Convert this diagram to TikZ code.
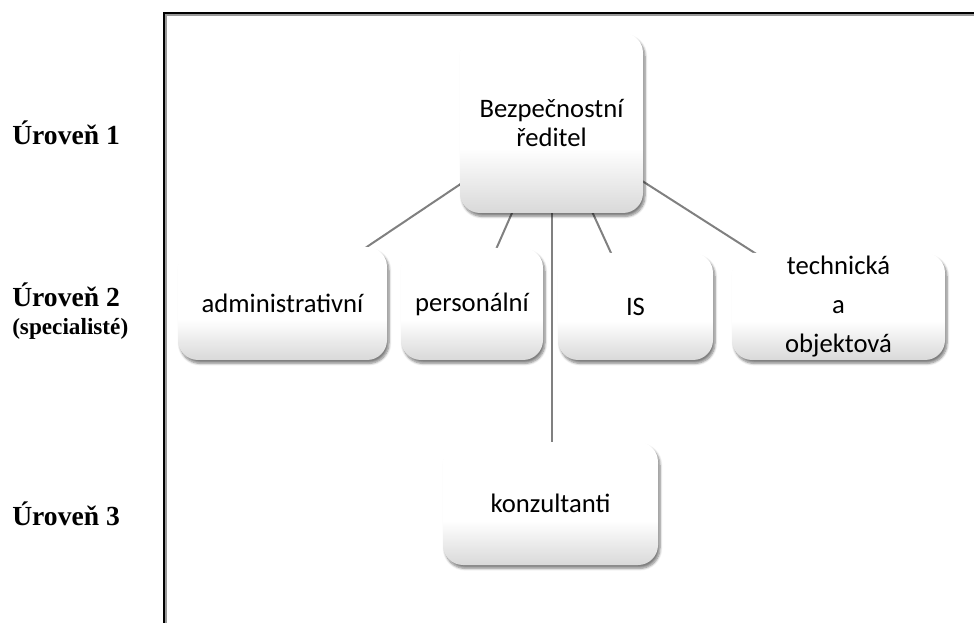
\documentclass[tikz,border=0pt]{standalone}
\usepackage{fontspec}
\setmainfont{Liberation Serif}
\newfontfamily\boxfont{Carlito}
\usetikzlibrary{shadows.blur,backgrounds}
\pgfdeclareverticalshading{unitshade}{100bp}{color(0bp)=(black!15); color(25bp)=(black!15); color(36bp)=(black!6); color(43bp)=(white); color(100bp)=(white)}

\begin{document}
\begin{tikzpicture}[x=0.75pt, y=-0.75pt,
    unit/.style={rounded corners=15pt, shading=unitshade, align=center, inner sep=0pt,
        font=\boxfont\fontsize{20}{21.5}\selectfont,
        blur shadow={shadow xshift=1.5pt, shadow yshift=-2.5pt, shadow opacity=50, shadow blur steps=6}},
    level/.style={anchor=base west, inner sep=0pt, font=\bfseries\fontsize{20.7}{24}\selectfont},
    link/.style={draw=black!50, line width=1.5pt}]
    \useasboundingbox (0,0) rectangle (974,623);

    % Frame
    \draw[black!40, line width=1pt] (166,623) -- (166,15) -- (974,15);
    \draw[line width=1.1pt] (164,623) -- (164,13) -- (974,13);

    % Levels
    \node[level] (lvlA) at (12,145) {Úroveň 1};
    \node[level] (lvlB) at (12,307) {Úroveň 2};
    \node[level, font=\bfseries\fontsize{17.4}{20}\selectfont] (lvlBs) at (12,335) {(specialisté)};
    \node[level] (lvlC) at (12,525) {Úroveň 3};

    % Units
    \node[unit, minimum width=137.25pt, minimum height=135pt] (boss) at (551.5,123) {Bezpečnostní\\ředitel};
    \node[unit, minimum width=156.75pt, minimum height=84.75pt] (admin) at (282.5,303.5) {administrativní};
    \node[unit, minimum width=106.5pt, minimum height=84pt] (pers) at (472,304) {personální};
    \node[unit, minimum width=116.25pt, minimum height=80.25pt] (is) at (635.5,306.5) {IS};
    \node[unit, minimum width=159.75pt, minimum height=80.25pt,
        font=\boxfont\fontsize{20}{29}\selectfont] (tech) at (838.5,306.5) {technická\\a\\objektová};
    \node[unit, minimum width=161.25pt, minimum height=92.25pt] (konz) at (550.5,503.5) {konzultanti};

    % Links (behind the units)
    \begin{scope}[on background layer]
        \foreach \sub in {admin,pers,is,tech}
            \draw[link] (boss.center) -- (\sub.center);
        \draw[link] (boss.center) -- (boss.center |- konz.north);
    \end{scope}
\end{tikzpicture}
\end{document}
